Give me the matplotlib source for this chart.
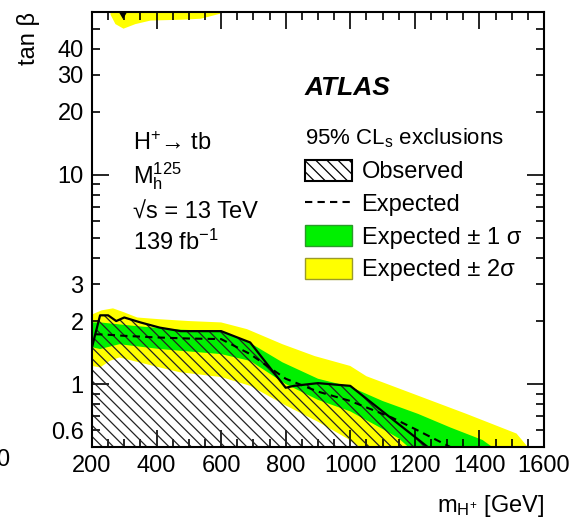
import numpy as np
import matplotlib
matplotlib.use('Agg')
import matplotlib.pyplot as plt
from matplotlib.patches import Patch
from matplotlib.lines import Line2D
from matplotlib.ticker import FixedLocator, FuncFormatter, MultipleLocator

plt.rcParams['font.family'] = ['Liberation Sans', 'DejaVu Sans']
plt.rcParams['mathtext.fontset'] = 'custom'
plt.rcParams['mathtext.rm'] = 'Liberation Sans'
plt.rcParams['mathtext.it'] = 'Liberation Sans:italic'
plt.rcParams['mathtext.bf'] = 'Liberation Sans:bold'
plt.rcParams['hatch.linewidth'] = 0.9

# H+ -> tb exclusion limits in (m_H+, tan beta), low tan beta region
obs_m = [200, 225, 250, 275, 300, 350, 410, 475, 600, 690, 800, 825, 900, 1000, 1130, 1240]
obs_tb = [1.5, 2.13, 2.13, 2.0, 2.08, 1.97, 1.86, 1.79, 1.79, 1.58, 0.96, 0.98, 1.01, 0.98, 0.68, 0.5]

exp_m = [210, 250, 300, 400, 500, 600, 690, 800, 900, 1000, 1130, 1200, 1310]
exp_tb = [1.73, 1.72, 1.70, 1.67, 1.65, 1.64, 1.39, 1.06, 0.92, 0.83, 0.69, 0.61, 0.5]

g_hi_m = [200, 225, 340, 470, 600, 690, 790, 900, 1000, 1100, 1210, 1310, 1410, 1440]
g_hi_tb = [1.97, 1.97, 1.89, 1.82, 1.79, 1.57, 1.27, 1.06, 0.97, 0.83, 0.72, 0.62, 0.54, 0.5]
g_lo_m = [200, 225, 285, 410, 600, 690, 800, 900, 1000, 1100, 1150, 1180]
g_lo_tb = [1.50, 1.47, 1.55, 1.47, 1.39, 1.29, 1.00, 0.84, 0.74, 0.61, 0.55, 0.5]

y_hi_m = [200, 230, 265, 300, 340, 410, 500, 600, 680, 790, 890, 1000, 1050, 1210, 1360, 1515, 1550]
y_hi_tb = [2.15, 2.25, 2.30, 2.2, 2.08, 2.04, 2.0, 1.97, 1.83, 1.55, 1.36, 1.22, 1.09, 0.88, 0.72, 0.58, 0.5]
y_lo_m = [200, 225, 255, 285, 410, 470, 600, 690, 800, 900, 990, 1030]
y_lo_tb = [1.22, 1.20, 1.29, 1.34, 1.20, 1.14, 1.08, 0.98, 0.79, 0.66, 0.55, 0.5]

# high tan beta region (expected +-2 sigma lower edge, small observed island)
top_m = [256, 271, 296, 333, 380, 473, 535, 596]
top_tb = [58.5, 52.8, 50.2, 52.8, 54.9, 55.4, 56.0, 59.2]
top_obs_m = [283, 296, 309]
top_obs_tb = [60, 55.5, 60]

x_ticks = [200, 400, 600, 800, 1000, 1200, 1400, 1600]
y_labelled = [0.6, 2, 3, 20, 30, 40]

ymin, ymax = 0.5, 60
yellow = '#ffff00'
green = '#00f000'

fig = plt.figure(figsize=(5.75, 5.21), dpi=100)
ax = fig.add_axes([0.16, 0.142, 0.786, 0.835])


def band(ax, xh, yh, xl, yl, color):
    px = np.concatenate([xh, xl[::-1]])
    py = np.concatenate([yh, yl[::-1]])
    ax.fill(px, py, color=color, lw=0, zorder=1)


band(ax, np.array(y_hi_m), np.array(y_hi_tb), np.array(y_lo_m), np.array(y_lo_tb), yellow)
band(ax, np.array(g_hi_m), np.array(g_hi_tb), np.array(g_lo_m), np.array(g_lo_tb), green)

# top yellow band reaches past the upper edge
ax.fill_between(top_m, top_tb, 100, color=yellow, lw=0, zorder=1)

# observed exclusion, hatched
hx = np.concatenate([obs_m, [obs_m[-1], obs_m[0]]])
hy = np.concatenate([obs_tb, [ymin * 0.9, ymin * 0.9]])
ax.fill(hx, hy, facecolor='none', edgecolor='#222222', hatch='\\\\\\', lw=0, zorder=2)
ax.fill(top_obs_m, top_obs_tb, color='black', lw=0, zorder=3)

ax.plot(exp_m, exp_tb, color='black', ls=(0, (3.5, 2.5)), lw=1.5, zorder=3)
ax.plot(obs_m, obs_tb, color='black', lw=1.6, zorder=4)

ax.set_xlim(200, 1600)
ax.set_yscale('log')
ax.set_ylim(ymin, ymax)

ax.xaxis.set_major_locator(FixedLocator(x_ticks))
ax.xaxis.set_minor_locator(MultipleLocator(50))
ax.yaxis.set_major_locator(FixedLocator([1, 10]))
ax.yaxis.set_minor_locator(FixedLocator([0.5, 0.6, 0.7, 0.8, 0.9] + list(range(2, 10)) + [20, 30, 40, 50, 60]))
ax.yaxis.set_major_formatter(FuncFormatter(lambda v, p: '%g' % v))
ax.yaxis.set_minor_formatter(FuncFormatter(lambda v, p: '%g' % v if any(abs(v - t) < 1e-6 for t in y_labelled) else ''))

ax.tick_params(which='both', direction='in', top=True, right=True, width=1.2)
ax.tick_params(which='major', length=12, labelsize=17, pad=6)
ax.tick_params(which='minor', length=6, labelsize=17, pad=6)
for s in ax.spines.values():
    s.set_linewidth(1.5)

ax.set_xlabel(r'm$_{\mathrm{H}^{+}}$ [GeV]', fontsize=17, loc='right')
ax.xaxis.set_label_coords(1.0, -0.105)
ax.set_ylabel('tan β', fontsize=17, loc='top')
ax.yaxis.set_label_coords(-0.115, 1.0)

ax.text(0.471, 0.809, 'ATLAS', transform=ax.transAxes, fontsize=19,
        fontweight='bold', fontstyle='italic')

info = ['H$^{+}$→ tb', r'M$_{\mathrm{h}}^{125}$', '√s = 13 TeV', r'139 fb$^{-1}$']
info_y = [0.683, 0.607, 0.524, 0.453]
for t, yy in zip(info, info_y):
    ax.text(0.091, yy, t, transform=ax.transAxes, fontsize=17, va='baseline')

handles = [
    Patch(facecolor='white', edgecolor='black', hatch='\\\\\\', lw=1.5),
    Line2D([], [], color='black', ls=(0, (3.5, 2.5)), lw=1.5),
    Patch(facecolor=green, edgecolor='#2a9a2a', lw=1.0),
    Patch(facecolor=yellow, edgecolor='#9a9a2a', lw=1.0),
]
labels = ['Observed', 'Expected', 'Expected ± 1 σ', 'Expected ± 2σ']
leg = ax.legend(handles, labels, title=r'95% CL$_{\mathrm{s}}$ exclusions',
                loc='upper left', bbox_to_anchor=(0.471, 0.736), frameon=False,
                fontsize=17, title_fontsize=16, alignment='left',
                handlelength=2.0, handleheight=1.0, handletextpad=0.4,
                labelspacing=0.385, borderpad=0, borderaxespad=0)

# neighbouring panel's last x label, cut at the left edge
fig.text(-0.006, 0.117, '0', fontsize=17, va='center')

fig.savefig('out.png', dpi=100)
